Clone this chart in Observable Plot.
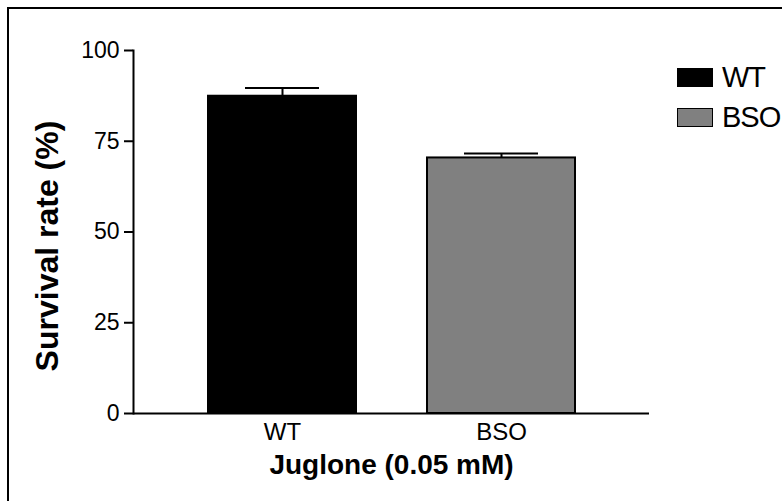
<!DOCTYPE html>
<html>
<head>
<meta charset="utf-8">
<script src="https://cdn.jsdelivr.net/npm/d3@7"></script>
<script src="https://cdn.jsdelivr.net/npm/@observablehq/plot@0.6"></script>
<style>
  html, body { margin: 0; padding: 0; background: #fff; }
  #wrap { position: relative; width: 782px; height: 501px; overflow: hidden; font-family: "Liberation Sans", Arial, sans-serif; }
  #border { position: absolute; left: 7px; top: 7px; width: 900px; height: 700px; border-left: 2px solid #000; border-top: 2px solid #000; }
  #chart { position: absolute; left: 0; top: 0; }
  .leg { position: absolute; left: 677px; display: flex; align-items: center; font-size: 29px; color: #000; letter-spacing: -1px; }
  .sw { width: 34px; height: 17px; border: 1px solid #000; margin-right: 9px; }
</style>
</head>
<body>
<div id="wrap">
  <div id="border"></div>
  <div id="chart"></div>
</div>
<script>
const groups = ["WT", "BSO"];
const means = [87.4, 70.4];
const errors = [2.3, 1.2];
const fills = ["#000000", "#808080"];
const yTicks = [0, 25, 50, 75, 100];
const yTitle = "Survival rate (%)";
const xTitle = "Juglone (0.05 mM)";

const data = groups.map((g, i) => ({group: g, mean: means[i], top: means[i] + errors[i], fill: fills[i]}));

const plot = Plot.plot({
  width: 782,
  height: 501,
  marginLeft: 133,
  marginRight: 133,
  marginTop: 50,
  marginBottom: 88,
  style: {fontFamily: "Liberation Sans, Arial, sans-serif", color: "#000", background: "transparent"},
  x: {domain: groups, paddingInner: 0.326, paddingOuter: 0.34, axis: null},
  y: {domain: [0, 100], axis: null},
  marks: [
    Plot.ruleX(data, {x: "group", y1: "mean", y2: "top", stroke: "#000", strokeWidth: 2}),
    Plot.tickY(data, {x: "group", y: "top", stroke: "#000", strokeWidth: 2, insetLeft: 37, insetRight: 37}),
    Plot.barY(data, {x: "group", y: "mean", fill: "fill", stroke: "#000", strokeWidth: 2}),
    Plot.ruleY([0], {stroke: "#000", strokeWidth: 2}),
    Plot.frame({anchor: "left", stroke: "#000", strokeWidth: 2}),
    Plot.axisY(yTicks, {tickSize: 9, tickPadding: 5, fontSize: 23, label: null, stroke: "#000", strokeWidth: 2, letterSpacing: "-0.3px"}),
    Plot.axisX({tickSize: 0, tickPadding: 9, fontSize: 24, label: null, letterSpacing: "-1px"}),
    Plot.text([yTitle], {frameAnchor: "left", textAnchor: "middle", rotate: -90, dx: -86, dy: 14, fontSize: 32, fontWeight: "bold", fill: "#000", letterSpacing: "-0.5px"}),
    Plot.text([xTitle], {frameAnchor: "bottom", dy: 60, fontSize: 28, fontWeight: "bold", fill: "#000", letterSpacing: "-1px"})
  ]
});
document.getElementById("chart").appendChild(plot);

const wrap = document.getElementById("wrap");
const legTops = [67, 107];
groups.forEach((g, i) => {
  const item = document.createElement("div");
  item.className = "leg";
  item.style.top = (legTops[i] - 8) + "px";
  item.style.height = "36px";
  const sw = document.createElement("div");
  sw.className = "sw";
  sw.style.background = fills[i];
  const tx = document.createElement("span");
  tx.textContent = g;
  item.appendChild(sw);
  item.appendChild(tx);
  wrap.appendChild(item);
});
</script>
</body>
</html>
